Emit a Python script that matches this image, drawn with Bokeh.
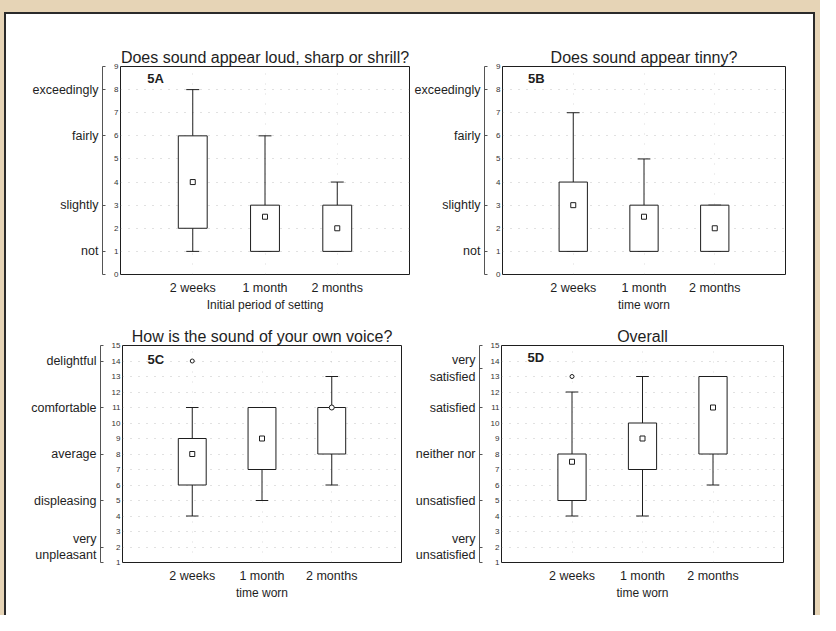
import numpy as np
from bokeh.plotting import figure
from bokeh.models import LinearAxis, FixedTicker, Range1d, Label, Grid
from bokeh.layouts import row, column
from bokeh.embed import file_html
from bokeh.resources import INLINE

# ---------------- data ----------------
categories = ["2 weeks", "1 month", "2 months"]
cat_pos = [1, 2, 3]

# 5A loud / sharp / shrill
a_low = [1, 1, 1]
a_q1 = [2, 1, 1]
a_q3 = [6, 3, 3]
a_high = [8, 6, 4]
a_mid = [4, 2.5, 2]
a_out_x, a_out_y = [], []

# 5B tinny
b_low = [1, 1, 1]
b_q1 = [1, 1, 1]
b_q3 = [4, 3, 3]
b_high = [7, 5, 3]
b_mid = [3, 2.5, 2]
b_out_x, b_out_y = [], []

# 5C own voice
c_low = [4, 5, 6]
c_q1 = [6, 7, 8]
c_q3 = [9, 11, 11]
c_high = [11, 11, 13]
c_mid = [8, 9, 11]
c_out_x, c_out_y = [1], [14]

# 5D overall
d_low = [4, 4, 6]
d_q1 = [5, 7, 8]
d_q3 = [8, 10, 13]
d_high = [12, 13, 13]
d_mid = [7.5, 9, 11]
d_out_x, d_out_y = [1], [13]

ab_nums = list(range(0, 10))
ab_label_pos = [1, 3, 6, 8]
ab_label_txt = ["not", "slightly", "fairly", "exceedingly"]

c_nums = list(range(1, 16))
c_label_pos = [2, 5, 8, 11, 14]
c_label_txt = ["very\nunpleasant", "displeasing", "average", "comfortable", "delightful"]

d_nums = list(range(1, 16))
d_label_pos = [2, 5, 8, 11, 13.5]
d_label_txt = ["very\nunsatisfied", "unsatisfied", "neither nor", "satisfied", "very\nsatisfied"]

FONT = "Liberation Sans"
INK = "#1e1e1e"


def panel(title, tag, tag_xy, width, height, borders, yr, nums, lpos, ltxt, xlabel,
          low, q1, q3, high, mid, ox, oy, markers=("square", "square", "square")):
    bl, br, bt, bb = borders
    p = figure(width=width, height=height, output_backend="svg", toolbar_location=None,
               x_range=Range1d(0, 4), y_range=Range1d(*yr),
               x_axis_location=None, y_axis_location=None,
               min_border_left=bl, min_border_right=br, min_border_top=bt, min_border_bottom=bb)
    for g in p.grid:
        g.visible = False
    p.background_fill_color = "white"
    p.border_fill_color = "white"
    p.outline_line_color = INK
    p.outline_line_width = 1

    p.title.text = title
    p.title.align = "center"
    p.title.text_font = FONT
    p.title.text_font_size = "16px"
    p.title.text_font_style = "normal"
    p.title.text_color = INK
    p.title.standoff = 1

    # grids
    p.add_layout(Grid(dimension=1, ticker=FixedTicker(ticks=nums), grid_line_color="#9a9a9a",
                      grid_line_dash="1 7", grid_line_alpha=0.6))
    p.add_layout(Grid(dimension=0, ticker=FixedTicker(ticks=cat_pos), grid_line_color="#9a9a9a",
                      grid_line_dash="1 9", grid_line_alpha=0.35))

    # numeric axis (closest to the frame)
    ya = LinearAxis(ticker=FixedTicker(ticks=nums), axis_line_color=None,
                    major_tick_line_color=None, minor_tick_line_color=None,
                    major_tick_out=0, major_tick_in=0, minor_tick_out=0, minor_tick_in=0,
                    major_label_text_font=FONT, major_label_text_font_size="8px",
                    major_label_text_color="#333333", major_label_standoff=2,
                    axis_label=" ", axis_label_text_font_size="1px", axis_label_standoff=4)
    p.add_layout(ya, "left")
    # verbal axis (bracket line with small end ticks)
    bracket_ticks = sorted([yr[0], yr[1]] + list(lpos))
    overrides = {yr[0]: "", yr[1]: ""}
    overrides.update({k: v for k, v in zip(lpos, ltxt)})
    yl = LinearAxis(ticker=FixedTicker(ticks=bracket_ticks),
                    major_label_overrides=overrides,
                    axis_line_color="#555555", axis_line_width=1,
                    major_tick_line_color="#555555", minor_tick_line_color=None,
                    major_tick_out=0, major_tick_in=3, minor_tick_out=0, minor_tick_in=0,
                    major_label_text_font=FONT, major_label_text_font_size="12.5px",
                    major_label_text_color=INK, major_label_standoff=4)
    p.add_layout(yl, "left")

    xa = LinearAxis(ticker=FixedTicker(ticks=cat_pos),
                    major_label_overrides={k: v for k, v in zip(cat_pos, categories)},
                    axis_line_color=None, major_tick_line_color=None, minor_tick_line_color=None,
                    major_tick_out=0, major_tick_in=0, minor_tick_out=0, minor_tick_in=0,
                    major_label_text_font=FONT, major_label_text_font_size="12.5px",
                    major_label_text_color=INK, major_label_standoff=6,
                    axis_label=xlabel, axis_label_text_font=FONT,
                    axis_label_text_font_size="12px", axis_label_text_font_style="normal",
                    axis_label_text_color=INK, axis_label_standoff=0)
    p.add_layout(xa, "below")

    x = np.array(cat_pos, dtype=float)
    low, q1, q3, high = map(np.array, (low, q1, q3, high))
    cap = 0.09
    p.segment(x, q3, x, high, line_color=INK, line_width=1)
    p.segment(x, low, x, q1, line_color=INK, line_width=1)
    p.segment(x - cap, high, x + cap, high, line_color=INK, line_width=1)
    p.segment(x - cap, low, x + cap, low, line_color=INK, line_width=1)
    p.vbar(x=x, width=0.4, bottom=q1, top=q3, fill_color="white", line_color=INK, line_width=1)
    p.scatter(x=x, y=mid, marker=list(markers), size=5, fill_color="white",
              line_color=INK, line_width=1)
    if ox:
        p.scatter(ox, oy, marker="circle", size=4, fill_color="white", line_color=INK, line_width=1)

    p.add_layout(Label(x=tag_xy[0], y=tag_xy[1], text=tag, text_font=FONT, text_font_size="13px",
                       text_font_style="bold", text_color=INK, text_baseline="top"))
    return p


pA = panel("Does sound appear loud, sharp or shrill?", "5A", (0.37, 8.8), 405, 300,
           (114, 2, 51, 38), (0, 9), ab_nums, ab_label_pos, ab_label_txt,
           "Initial period of setting", a_low, a_q1, a_q3, a_high, a_mid, a_out_x, a_out_y)
pB = panel("Does sound appear tinny?", "5B", (0.36, 8.8), 402, 300,
           (88, 28, 52, 36), (0, 9), ab_nums, ab_label_pos, ab_label_txt,
           "time worn", b_low, b_q1, b_q3, b_high, b_mid, b_out_x, b_out_y)
pC = panel("How is the sound of your own voice?", "5C", (0.36, 14.6), 405, 301,
           (116, 10, 31, 47), (1, 15), c_nums, c_label_pos, c_label_txt,
           "time worn", c_low, c_q1, c_q3, c_high, c_mid, c_out_x, c_out_y,
           markers=("square", "square", "circle"))
pD = panel("Overall", "5D", (0.37, 14.7), 402, 301,
           (90, 30, 30, 53), (1, 15), d_nums, d_label_pos, d_label_txt,
           "time worn", d_low, d_q1, d_q3, d_high, d_mid, d_out_x, d_out_y)

inner = column(row(pA, pB), row(pC, pD),
               styles={"background-color": "white", "border-left": "2px solid #2a2a2a",
                       "border-top": "2px solid #2a2a2a", "border-right": "2px solid #2a2a2a"})
page = column(inner, styles={"background-color": "#e6d4b6", "padding-top": "12px",
                             "padding-left": "4px", "padding-right": "5px"})

open("out.html", "w").write(file_html(page, INLINE))
